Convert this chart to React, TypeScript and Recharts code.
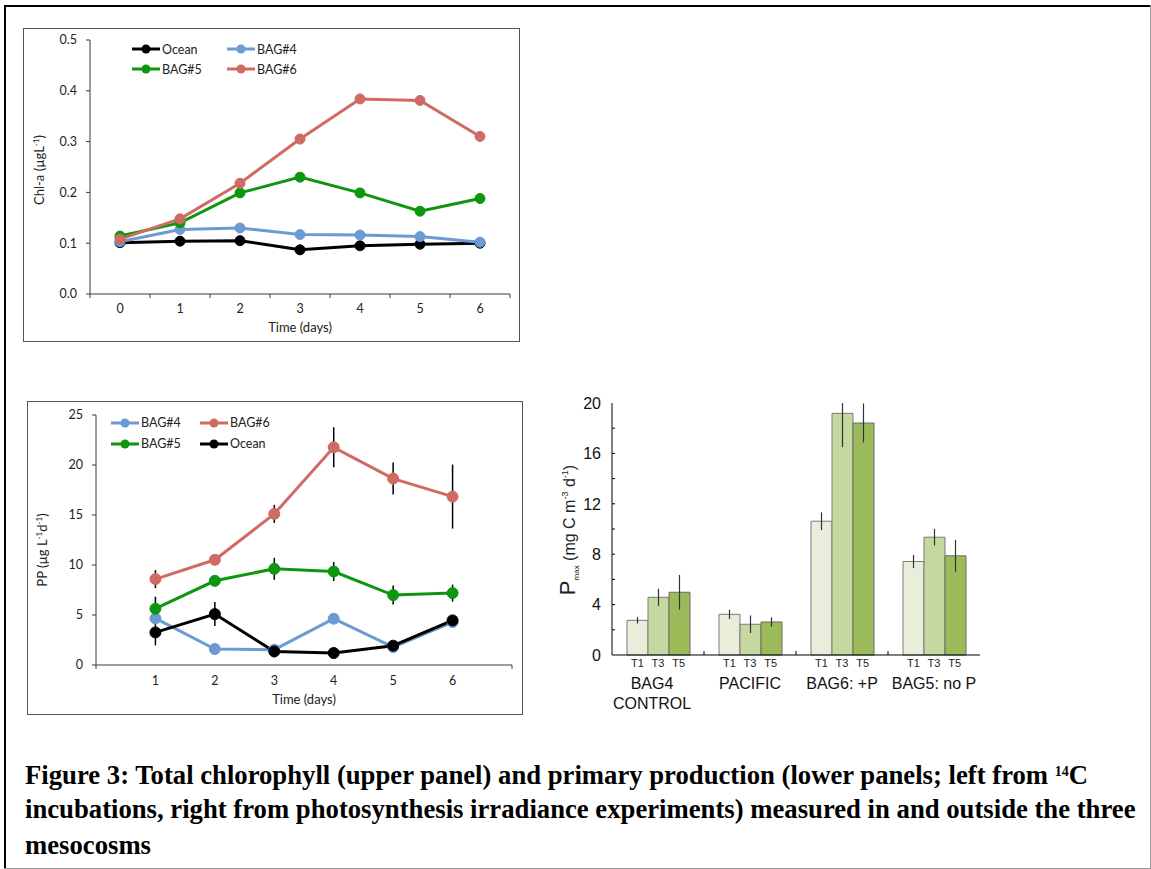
import { Bar, BarChart, ErrorBar, Legend, Line, LineChart, XAxis, YAxis } from 'recharts';

const SANS = 'Lato, "Open Sans", sans-serif';
const ARIAL = '"Liberation Sans", Arial, sans-serif';
const SERIF = '"Liberation Serif", "Times New Roman", serif';
const AXIS = '#3a3a3a';
const TEXT = '#222';

const OCEAN = '#000000';
const BAG4 = '#6b9bd2';
const BAG5 = '#0f960f';
const BAG6 = '#cf6b64';
const BAR_T1 = '#e9eedb';
const BAR_T3 = '#c5d8a0';
const BAR_T5 = '#9bbb59';

// upper panel: chlorophyll
const CHL_DAYS = [0, 1, 2, 3, 4, 5, 6];
const CHL_TICKS = [0, 0.1, 0.2, 0.3, 0.4, 0.5];
const CHL_OCEAN = [0.101, 0.104, 0.105, 0.087, 0.095, 0.098, 0.1];
const CHL_BAG4 = [0.103, 0.127, 0.13, 0.117, 0.116, 0.113, 0.102];
const CHL_BAG5 = [0.114, 0.14, 0.199, 0.23, 0.199, 0.163, 0.188];
const CHL_BAG6 = [0.108, 0.148, 0.218, 0.305, 0.384, 0.381, 0.31];

// lower left: 14C primary production
const PP_DAYS = [1, 2, 3, 4, 5, 6];
const PP_TICKS = [0, 5, 10, 15, 20, 25];
const PP_BAG4 = [4.66, 1.6, 1.53, 4.63, 1.8, 4.29];
const PP_BAG5 = [5.63, 8.42, 9.62, 9.35, 6.99, 7.19];
const PP_BAG6 = [8.59, 10.52, 15.11, 21.77, 18.64, 16.84];
const PP_OCEAN = [3.26, 5.09, 1.36, 1.2, 1.93, 4.46];
const PP_BAG5_ERR = [1.2, 0.4, 1.1, 0.95, 0.95, 0.85];
const PP_BAG6_ERR = [0.9, 0.4, 0.9, 2.0, 1.6, 3.2];
const PP_OCEAN_ERR = [1.3, 1.2, 0.6, 0.3, 0.3, 0.3];

// lower right: Pmax from P-E experiments
const PMAX_GROUPS = ['BAG4 CONTROL', 'PACIFIC', 'BAG6: +P', 'BAG5: no P'];
const PMAX_GROUP_LINES = [['BAG4', 'CONTROL'], ['PACIFIC'], ['BAG6: +P'], ['BAG5: no P']];
const PMAX_TIMES = ['T1', 'T3', 'T5'];
const PMAX_TICKS = [0, 2, 4, 6, 8, 10, 12, 14, 16, 18, 20];
const PMAX_T1 = [2.75, 3.23, 10.62, 7.42];
const PMAX_T3 = [4.58, 2.44, 19.18, 9.35];
const PMAX_T5 = [4.98, 2.62, 18.41, 7.87];
const PMAX_T1_ERR = [0.25, 0.37, 0.7, 0.53];
const PMAX_T3_ERR: (number | number[])[] = [0.68, 0.7, [2.68, 0.82], 0.66];
const PMAX_T5_ERR = [1.38, 0.37, 1.55, 1.26];

const chlData = CHL_DAYS.map((day, i) => ({
  day,
  ocean: CHL_OCEAN[i],
  bag4: CHL_BAG4[i],
  bag5: CHL_BAG5[i],
  bag6: CHL_BAG6[i],
}));
const CHL_X_TICKS = CHL_DAYS.flatMap((d) => [d - 0.5, d]).concat(CHL_DAYS[CHL_DAYS.length - 1] + 0.5);

const ppData = PP_DAYS.map((day, i) => ({
  day,
  bag4: PP_BAG4[i],
  bag5: PP_BAG5[i],
  bag6: PP_BAG6[i],
  ocean: PP_OCEAN[i],
  bag5Err: PP_BAG5_ERR[i],
  bag6Err: PP_BAG6_ERR[i],
  oceanErr: PP_OCEAN_ERR[i],
}));
const PP_X_TICKS = [0, ...PP_DAYS, 7];

const pmaxData = PMAX_GROUPS.map((group, i) => ({
  group,
  t1: PMAX_T1[i],
  t3: PMAX_T3[i],
  t5: PMAX_T5[i],
  t1Err: PMAX_T1_ERR[i],
  t3Err: PMAX_T3_ERR[i],
  t5Err: PMAX_T5_ERR[i],
}));

function GridLegend({ payload, order, colWidth, rowHeight }: any) {
  const colors: Record<string, string> = {};
  (payload || []).forEach((p: any) => {
    colors[p.value] = p.color;
  });
  return (
    <div
      style={{
        display: 'grid',
        gridTemplateColumns: `${colWidth}px ${colWidth}px`,
        gridAutoRows: rowHeight,
        fontFamily: SANS,
        fontSize: 12.5,
        color: TEXT,
      }}
    >
      {order.map((name: string) => (
        <div key={name} style={{ display: 'flex', alignItems: 'center' }}>
          <svg width={30} height={12} style={{ display: 'block' }}>
            <line x1={0} x2={28} y1={6} y2={6} stroke={colors[name]} strokeWidth={3} />
            <circle cx={14} cy={6} r={4.5} fill={colors[name]} />
          </svg>
          <span>{name}</span>
        </div>
      ))}
    </div>
  );
}

function ChlXTick({ x, y, payload }: any) {
  const v = payload.value;
  if (!Number.isInteger(v)) return <line x1={x} x2={x} y1={y} y2={y + 4} stroke={AXIS} />;
  return (
    <text x={x} y={y + 19} textAnchor="middle" fontFamily={SANS} fontSize={12.5} fill={TEXT}>
      {v}
    </text>
  );
}

function PpXTick({ x, y, payload }: any) {
  const v = payload.value;
  if (v === PP_X_TICKS[0] || v === PP_X_TICKS[PP_X_TICKS.length - 1])
    return <line x1={x} x2={x} y1={y} y2={y + 4} stroke={AXIS} />;
  return (
    <text x={x} y={y + 20} textAnchor="middle" fontFamily={SANS} fontSize={12.5} fill={TEXT}>
      {v}
    </text>
  );
}

function TimeLabel(dy: number) {
  return (props: any) => {
    const vb = props.viewBox;
    return (
      <text x={vb.x + vb.width / 2} y={vb.y + dy} textAnchor="middle" fontFamily={SANS} fontSize={13} fill={TEXT}>
        Time (days)
      </text>
    );
  };
}

const ChlYLabel = () => (
  <text transform="translate(20,141) rotate(-90)" textAnchor="middle" fontFamily={SANS} fontSize={13} fill={TEXT}>
    Chl-a (µgL
    <tspan dy={-5} fontSize={8}>-1</tspan>
    <tspan dy={5}>)</tspan>
  </text>
);

const PpYLabel = () => (
  <text transform="translate(19,148) rotate(-90)" textAnchor="middle" fontFamily={SANS} fontSize={13} fill={TEXT}>
    PP (µg L
    <tspan dy={-5} fontSize={8}>-1</tspan>
    <tspan dy={5}>d</tspan>
    <tspan dy={-5} fontSize={8}>-1</tspan>
    <tspan dy={5}>)</tspan>
  </text>
);

const PmaxYLabel = () => (
  <text transform="translate(35,140) rotate(-90)" textAnchor="middle" fontFamily={ARIAL} fontSize={16} fill={TEXT}>
    <tspan fontSize={22}>P</tspan>
    <tspan fontSize={8} dy={4}>max</tspan>
    <tspan dy={-4}> (mg C m</tspan>
    <tspan fontSize={9} dy={-7}>-3</tspan>
    <tspan dy={7}> d</tspan>
    <tspan fontSize={9} dy={-7}>-1</tspan>
    <tspan dy={7}>)</tspan>
  </text>
);

function PmaxXTick({ x, y, payload }: any) {
  const idx = PMAX_GROUPS.indexOf(payload.value);
  const lines = PMAX_GROUP_LINES[idx] || [];
  return (
    <g>
      {idx > 0 && <line x1={x - 46} x2={x - 46} y1={y} y2={y - 4} stroke="#000" />}
      {PMAX_TIMES.map((t, k) => (
        <text key={t} x={x + (k - 1) * 20.67} y={y + 12} textAnchor="middle" fontFamily={ARIAL} fontSize={11} fill={TEXT}>
          {t}
        </text>
      ))}
      {lines.map((l, k) => (
        <text key={l} x={idx === 0 ? x - 6 : x} y={y + 34 + k * 20} textAnchor="middle" fontFamily={ARIAL} fontSize={16} fill="#111">
          {l}
        </text>
      ))}
    </g>
  );
}

function PmaxYTick({ x, y, payload }: any) {
  const v = payload.value;
  return (
    <g>
      {v > 0 && v < 20 && <line x1={x} x2={x + 3} y1={y} y2={y} stroke="#000" />}
      {v % 4 === 0 && (
        <text x={x - 11} y={y} dy="0.36em" textAnchor="end" fontFamily={ARIAL} fontSize={16} fill="#111">
          {v}
        </text>
      )}
    </g>
  );
}

const dot = (c: string, r: number) => ({ r, fill: c, stroke: c, strokeWidth: 1 });

function ChlChart() {
  return (
    <LineChart width={495} height={312} data={chlData} margin={{ top: 11, right: 9, bottom: 0, left: 0 }}>
      <XAxis
        type="number"
        dataKey="day"
        domain={[-0.5, 6.5]}
        ticks={CHL_X_TICKS}
        interval={0}
        height={47}
        tickLine={false}
        tickSize={0}
        tickMargin={0}
        tick={(p: any) => <ChlXTick {...p} />}
        axisLine={{ stroke: AXIS }}
        label={TimeLabel(38)}
      />
      <YAxis
        domain={[0, 0.5]}
        ticks={CHL_TICKS}
        interval={0}
        width={66}
        tickSize={4}
        tickMargin={9}
        tickFormatter={(v: number) => v.toFixed(1)}
        tick={{ fontFamily: SANS, fontSize: 12.5, fill: TEXT }}
        tickLine={{ stroke: AXIS }}
        axisLine={{ stroke: AXIS }}
        label={ChlYLabel}
      />
      <Legend
        layout="vertical"
        verticalAlign="middle"
        align="center"
        wrapperStyle={{ left: 108, top: 10, width: 200 }}
        content={(p: any) => <GridLegend {...p} order={['Ocean', 'BAG#4', 'BAG#5', 'BAG#6']} colWidth={95} rowHeight={20} />}
      />
      <Line type="linear" dataKey="ocean" name="Ocean" stroke={OCEAN} strokeWidth={3} dot={dot(OCEAN, 5)} activeDot={false} isAnimationActive={false} />
      <Line type="linear" dataKey="bag4" name="BAG#4" stroke={BAG4} strokeWidth={3} dot={dot(BAG4, 5)} activeDot={false} isAnimationActive={false} />
      <Line type="linear" dataKey="bag5" name="BAG#5" stroke={BAG5} strokeWidth={3} dot={dot(BAG5, 5)} activeDot={false} isAnimationActive={false} />
      <Line type="linear" dataKey="bag6" name="BAG#6" stroke={BAG6} strokeWidth={3} dot={dot(BAG6, 5)} activeDot={false} isAnimationActive={false} />
    </LineChart>
  );
}

function PpChart() {
  return (
    <LineChart width={494} height={312} data={ppData} margin={{ top: 13, right: 10, bottom: 0, left: 0 }}>
      <XAxis
        type="number"
        dataKey="day"
        domain={[0, 7]}
        ticks={PP_X_TICKS}
        interval={0}
        height={49}
        tickLine={false}
        tickSize={0}
        tickMargin={0}
        tick={(p: any) => <PpXTick {...p} />}
        axisLine={{ stroke: AXIS }}
        label={TimeLabel(39)}
      />
      <YAxis
        domain={[0, 25]}
        ticks={PP_TICKS}
        interval={0}
        width={68}
        tickSize={4}
        tickMargin={9}
        tick={{ fontFamily: SANS, fontSize: 12.5, fill: TEXT }}
        tickLine={{ stroke: AXIS }}
        axisLine={{ stroke: AXIS }}
        label={PpYLabel}
      />
      <Legend
        layout="vertical"
        verticalAlign="middle"
        align="center"
        wrapperStyle={{ left: 83, top: 10, width: 190 }}
        content={(p: any) => <GridLegend {...p} order={['BAG#4', 'BAG#6', 'BAG#5', 'Ocean']} colWidth={89} rowHeight={21} />}
      />
      <Line type="linear" dataKey="bag4" name="BAG#4" stroke={BAG4} strokeWidth={3} dot={dot(BAG4, 5.5)} activeDot={false} isAnimationActive={false} />
      <Line type="linear" dataKey="bag5" name="BAG#5" stroke={BAG5} strokeWidth={3} dot={dot(BAG5, 5.5)} activeDot={false} isAnimationActive={false}>
        <ErrorBar dataKey="bag5Err" direction="y" width={0} stroke="#000" strokeWidth={1.5} />
      </Line>
      <Line type="linear" dataKey="bag6" name="BAG#6" stroke={BAG6} strokeWidth={3} dot={dot(BAG6, 5.5)} activeDot={false} isAnimationActive={false}>
        <ErrorBar dataKey="bag6Err" direction="y" width={0} stroke="#000" strokeWidth={1.5} />
      </Line>
      <Line type="linear" dataKey="ocean" name="Ocean" stroke={OCEAN} strokeWidth={3} dot={dot(OCEAN, 5.5)} activeDot={false} isAnimationActive={false}>
        <ErrorBar dataKey="oceanErr" direction="y" width={0} stroke="#000" strokeWidth={1.5} />
      </Line>
    </LineChart>
  );
}

function PmaxChart() {
  return (
    <BarChart width={460} height={330} data={pmaxData} margin={{ top: 13, right: 20, bottom: 0, left: 0 }} barCategoryGap={15} barGap={0}>
      <XAxis
        dataKey="group"
        height={65}
        interval={0}
        tickLine={false}
        tickSize={0}
        tickMargin={0}
        tick={(p: any) => <PmaxXTick {...p} />}
        axisLine={{ stroke: '#000' }}
      />
      <XAxis xAxisId="top" orientation="top" height={0} tick={false} tickLine={false} axisLine={{ stroke: '#000' }} />
      <YAxis
        domain={[0, 20]}
        ticks={PMAX_TICKS}
        interval={0}
        width={72}
        tickSize={0}
        tickMargin={0}
        tickLine={false}
        tick={(p: any) => <PmaxYTick {...p} />}
        axisLine={{ stroke: '#000' }}
        label={PmaxYLabel}
      />
      <YAxis yAxisId="right" orientation="right" width={0} domain={[0, 20]} tick={false} tickLine={false} axisLine={{ stroke: '#000' }} />
      <Bar dataKey="t1" fill={BAR_T1} stroke="#7a7a7a" strokeWidth={1} isAnimationActive={false}>
        <ErrorBar dataKey="t1Err" direction="y" width={0} stroke="#333" strokeWidth={1.2} />
      </Bar>
      <Bar dataKey="t3" fill={BAR_T3} stroke="#7a7a7a" strokeWidth={1} isAnimationActive={false}>
        <ErrorBar dataKey="t3Err" direction="y" width={0} stroke="#333" strokeWidth={1.2} />
      </Bar>
      <Bar dataKey="t5" fill={BAR_T5} stroke="#6a6a6a" strokeWidth={1} isAnimationActive={false}>
        <ErrorBar dataKey="t5Err" direction="y" width={0} stroke="#333" strokeWidth={1.2} />
      </Bar>
    </BarChart>
  );
}

const captionLine = { position: 'absolute' as const, left: 25, fontFamily: SERIF, fontWeight: 700, fontSize: 26.7, lineHeight: '27px', color: '#000', whiteSpace: 'nowrap' as const };

export default function App() {
  return (
    <div style={{ position: 'absolute', left: 0, top: 0, width: 1151, height: 869, background: '#fff', overflow: 'hidden' }}>
      <div style={{ position: 'absolute', left: 4, top: 5, width: 1147, height: 2, background: '#000' }} />
      <div style={{ position: 'absolute', left: 4, top: 5, width: 2, height: 864, background: '#000' }} />
      <div style={{ position: 'absolute', left: 1150, top: 5, width: 1, height: 864, background: '#999' }} />
      <div style={{ position: 'absolute', left: 4, top: 868, width: 1147, height: 1, background: '#999' }} />

      <div style={{ position: 'absolute', left: 23, top: 28, width: 497, height: 314, border: '1px solid #555', boxSizing: 'border-box' }}>
        <ChlChart />
      </div>

      <div style={{ position: 'absolute', left: 27, top: 401, width: 496, height: 314, border: '1px solid #555', boxSizing: 'border-box' }}>
        <PpChart />
      </div>

      <div style={{ position: 'absolute', left: 540, top: 390 }}>
        <PmaxChart />
      </div>

      <div style={{ ...captionLine, top: 762 }}>
        Figure 3: Total chlorophyll (upper panel) and primary production (lower panels; left from{' '}
        <span style={{ fontSize: 14, position: 'relative', top: -8 }}>14</span>C
      </div>
      <div style={{ ...captionLine, top: 796 }}>
        incubations, right from photosynthesis irradiance experiments) measured in and outside the three
      </div>
      <div style={{ ...captionLine, top: 832 }}>mesocosms</div>
    </div>
  );
}
